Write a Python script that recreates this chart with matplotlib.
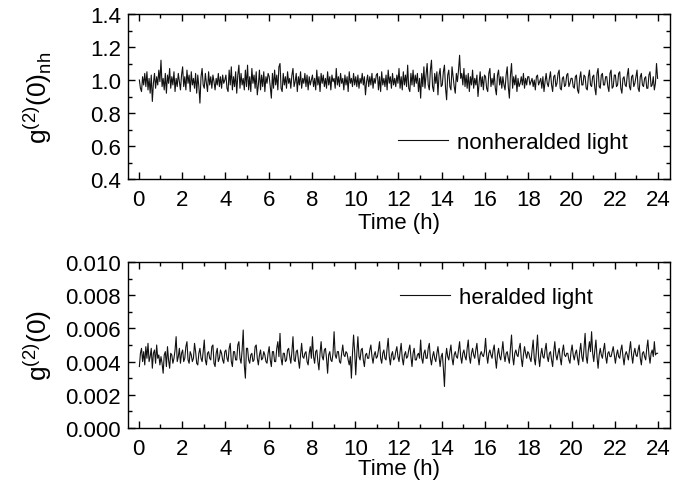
import numpy as np
import matplotlib
matplotlib.use("Agg")
import matplotlib.pyplot as plt
from matplotlib.ticker import MultipleLocator, FormatStrFormatter

plt.rcParams['font.family'] = ['Liberation Sans', 'DejaVu Sans']
plt.rcParams['mathtext.fontset'] = 'custom'
plt.rcParams['mathtext.rm'] = 'Liberation Sans'

# --- data, one row = one hour (3 min steps) ---
time_h = np.arange(0.025, 24.0, 0.05)

g2_nonheralded = [
    1.00, 0.95, 0.93, 1.02, 0.97, 1.04, 0.96, 1.05, 0.94, 1.01, 0.92, 1.03, 0.87, 0.98, 1.04, 0.95, 1.02, 0.97, 1.06, 0.99,
    1.12, 0.96, 1.01, 0.94, 1.04, 0.92, 1.03, 0.98, 1.07, 0.95, 1.02, 0.97, 1.05, 0.93, 1.01, 0.96, 1.04, 0.99, 0.94, 1.03,
    1.08, 0.96, 1.02, 0.94, 1.06, 0.98, 1.03, 0.93, 1.05, 0.97, 1.01, 0.95, 1.04, 0.92, 1.03, 0.96, 0.86, 1.02, 1.07, 0.97,
    0.95, 1.04, 0.98, 0.93, 1.05, 0.97, 1.02, 0.95, 1.03, 0.99, 0.94, 1.01, 0.97, 1.04, 0.96, 1.02, 0.95, 1.03, 0.98, 1.00,
    1.03, 0.95, 0.93, 1.06, 0.97, 1.08, 0.94, 1.02, 0.96, 1.05, 0.92, 1.03, 1.09, 0.95, 1.04, 0.97, 1.01, 0.94, 1.06, 0.96,
    1.09, 0.94, 1.02, 0.93, 1.07, 0.98, 1.03, 0.95, 1.05, 0.91, 0.97, 1.06, 0.94, 1.03, 0.96, 1.05, 0.93, 1.02, 0.98, 1.04,
    1.02, 0.96, 0.89, 1.04, 0.95, 1.06, 0.97, 1.03, 0.94, 1.08, 1.10, 0.95, 0.93, 1.04, 0.97, 1.02, 0.95, 1.05, 0.98, 1.01,
    0.95, 1.03, 1.07, 0.96, 0.99, 1.04, 0.93, 1.02, 0.97, 1.05, 0.95, 1.01, 0.98, 1.04, 0.96, 1.03, 0.94, 1.02, 0.97, 1.00,
    1.03, 0.96, 1.01, 0.94, 1.06, 0.97, 1.02, 0.93, 1.04, 0.98, 1.03, 0.96, 1.01, 0.95, 1.05, 0.97, 1.02, 0.94, 1.03, 0.99,
    1.01, 0.95, 1.07, 0.97, 1.02, 0.96, 1.04, 0.98, 1.01, 0.94, 1.03, 0.97, 1.02, 0.93, 1.05, 0.98, 1.01, 0.96, 1.04, 0.97,
    1.02, 0.96, 1.03, 0.95, 1.01, 0.98, 1.04, 0.97, 1.02, 0.91, 0.99, 1.03, 0.96, 1.02, 0.97, 1.04, 0.95, 1.01, 0.98, 1.03,
    1.04, 0.94, 1.02, 0.93, 1.05, 0.97, 1.01, 0.96, 1.03, 0.94, 1.06, 0.98, 1.02, 0.95, 1.04, 0.97, 1.01, 0.96, 1.03, 0.98,
    1.07, 0.95, 1.02, 0.94, 1.05, 0.97, 1.03, 0.96, 1.09, 0.95, 0.93, 1.04, 0.97, 1.06, 0.96, 1.03, 0.98, 1.04, 0.93, 1.01,
    0.89, 1.04, 0.96, 1.08, 0.95, 1.03, 1.10, 0.97, 0.94, 1.06, 1.12, 0.96, 0.93, 1.04, 0.98, 1.05, 0.91, 1.03, 1.07, 0.96,
    0.97, 1.05, 1.09, 0.95, 0.88, 1.03, 1.06, 0.96, 0.94, 1.08, 1.02, 0.96, 0.92, 1.04, 0.99, 1.06, 1.15, 1.01, 1.04, 0.97,
    1.07, 0.96, 1.03, 0.95, 1.04, 0.93, 1.02, 0.97, 1.06, 0.95, 1.01, 0.97, 1.03, 0.90, 0.98, 1.05, 0.96, 1.02, 0.94, 1.03,
    1.02, 0.95, 0.93, 1.04, 1.07, 0.96, 1.01, 0.97, 1.04, 0.95, 0.91, 1.03, 1.06, 0.97, 1.02, 0.95, 1.02, 0.97, 0.94, 1.03,
    1.08, 0.96, 0.89, 1.03, 1.10, 0.95, 1.02, 0.97, 1.03, 0.93, 1.01, 0.96, 0.98, 1.02, 0.97, 1.04, 0.95, 1.01, 0.97, 1.02,
    1.02, 0.97, 0.99, 1.01, 0.96, 1.00, 0.94, 1.02, 1.03, 0.97, 0.99, 1.01, 0.95, 1.02, 0.93, 0.99, 1.04, 0.98, 0.96, 1.01,
    1.05, 0.97, 0.93, 1.02, 1.03, 0.96, 0.98, 1.04, 1.06, 0.95, 0.94, 1.01, 1.02, 0.96, 0.97, 1.03, 1.04, 0.96, 0.98, 1.01,
    1.01, 0.96, 0.95, 1.02, 1.03, 0.94, 0.92, 1.01, 1.05, 0.97, 0.97, 1.03, 1.02, 0.95, 0.94, 1.02, 1.06, 0.97, 0.96, 1.02,
    1.03, 0.95, 0.91, 1.04, 1.07, 0.96, 0.95, 1.03, 1.04, 0.97, 0.97, 1.02, 1.02, 0.96, 0.93, 1.04, 1.06, 0.95, 0.96, 1.03,
    1.03, 0.96, 0.97, 1.04, 1.05, 0.95, 0.92, 1.01, 1.02, 0.97, 0.96, 1.03, 1.07, 0.96, 0.94, 1.02, 1.03, 0.96, 0.98, 1.02,
    1.06, 0.95, 0.93, 1.02, 1.04, 0.97, 0.96, 1.01, 1.02, 0.95, 0.95, 1.03, 1.05, 0.96, 0.97, 1.02, 0.94, 0.98, 1.10, 1.01,
]

# heralded g2 in units of 1e-3
g2_heralded_e3 = [
    3.7, 4.5, 4.8, 4.0, 4.6, 3.8, 4.9, 4.2, 5.1, 4.0, 4.3, 4.8, 3.6, 4.5, 4.7, 3.9, 5.0, 4.2, 4.4, 3.8,
    4.3, 3.9, 3.3, 4.4, 4.6, 3.7, 4.9, 4.1, 3.6, 4.5, 4.4, 3.9, 4.2, 4.7, 5.5, 4.0, 4.3, 4.8, 3.9, 4.5,
    4.7, 4.0, 4.2, 4.9, 5.2, 4.1, 3.9, 4.6, 4.4, 4.0, 4.2, 5.1, 4.6, 3.9, 3.8, 4.5, 4.8, 4.2, 4.0, 4.6,
    5.3, 4.1, 3.8, 4.5, 4.6, 4.2, 4.1, 4.9, 5.0, 3.9, 3.7, 4.5, 4.8, 4.0, 4.2, 4.7, 4.5, 4.1, 3.9, 4.6,
    4.7, 4.2, 4.0, 4.8, 5.1, 4.0, 3.7, 4.6, 4.6, 4.1, 4.1, 5.0, 5.2, 4.2, 3.9, 4.7, 5.9, 3.8, 3.0, 4.8,
    4.8, 4.1, 3.9, 4.4, 4.5, 4.0, 4.1, 4.9, 5.0, 4.2, 3.8, 4.4, 4.7, 4.1, 4.2, 4.6, 4.4, 4.0, 3.9, 4.5,
    4.9, 4.1, 3.7, 4.6, 4.6, 4.0, 4.0, 4.8, 5.2, 4.3, 5.7, 4.2, 3.8, 4.5, 4.5, 4.0, 4.1, 4.7, 4.8, 4.3,
    3.9, 4.6, 5.5, 4.1, 4.0, 4.6, 4.7, 4.1, 3.6, 4.4, 5.1, 4.3, 4.2, 4.5, 4.6, 4.0, 3.8, 4.5, 4.9, 4.2,
    5.5, 4.3, 3.9, 4.6, 4.7, 4.0, 3.5, 4.5, 5.2, 4.3, 4.1, 4.7, 4.8, 4.2, 3.3, 4.4, 4.6, 4.1, 4.0, 4.5,
    5.8, 4.4, 4.2, 4.6, 4.6, 4.0, 3.9, 4.5, 5.0, 4.4, 4.3, 4.6, 4.5, 4.1, 3.8, 4.3, 3.0, 4.5, 5.6, 4.6,
    3.2, 4.5, 5.5, 4.3, 4.1, 4.7, 4.8, 4.1, 3.7, 4.4, 4.5, 4.2, 4.2, 4.7, 5.0, 4.3, 3.9, 4.4, 4.6, 4.2,
    4.3, 4.7, 5.2, 4.2, 3.9, 4.5, 4.7, 4.2, 4.1, 4.8, 5.4, 4.3, 3.8, 4.4, 4.6, 4.1, 4.2, 4.6, 4.9, 4.3,
    4.0, 4.6, 5.1, 4.2, 3.8, 4.4, 4.6, 4.2, 4.3, 4.7, 5.0, 4.3, 3.7, 4.5, 4.8, 4.1, 4.1, 4.4, 4.5, 4.2,
    5.3, 4.2, 3.9, 4.5, 4.7, 4.2, 4.2, 4.8, 5.1, 4.2, 3.8, 4.3, 4.6, 4.2, 4.0, 4.5, 4.9, 4.3, 3.7, 4.3,
    4.5, 3.6, 2.5, 4.2, 4.8, 4.3, 4.1, 4.6, 5.0, 4.2, 3.8, 4.4, 4.6, 4.3, 4.2, 4.7, 5.2, 4.3, 3.9, 4.5,
    4.7, 4.3, 4.1, 4.8, 5.3, 4.3, 3.9, 4.5, 4.8, 4.4, 4.2, 4.7, 5.1, 4.3, 3.8, 4.4, 4.6, 4.4, 4.3, 4.6,
    5.4, 4.4, 3.9, 4.5, 4.7, 4.4, 4.2, 4.7, 5.0, 4.2, 3.6, 4.4, 4.8, 4.3, 4.1, 4.6, 5.2, 4.4, 4.0, 4.5,
    4.6, 4.2, 3.9, 4.8, 5.6, 4.3, 3.8, 4.5, 4.7, 4.4, 4.3, 4.8, 5.1, 4.2, 3.7, 4.4, 4.9, 4.5, 4.2, 4.6,
    4.5, 4.2, 4.0, 4.7, 5.3, 4.2, 3.8, 4.7, 5.6, 4.3, 3.7, 4.4, 4.8, 4.3, 4.2, 4.7, 5.1, 4.3, 4.0, 4.5,
    4.6, 4.1, 3.7, 4.6, 5.2, 4.4, 4.1, 4.5, 4.8, 4.2, 3.8, 4.6, 5.0, 4.4, 4.3, 4.5, 4.5, 4.1, 3.9, 4.6,
    5.0, 4.4, 4.1, 4.5, 4.7, 4.2, 3.8, 4.6, 5.1, 4.3, 4.0, 4.8, 5.7, 4.3, 3.9, 4.7, 5.2, 4.6, 5.8, 4.5,
    4.0, 4.7, 5.3, 4.3, 3.6, 4.4, 4.8, 4.4, 4.2, 4.7, 5.1, 4.3, 3.9, 4.5, 4.6, 4.3, 4.3, 4.6, 4.9, 4.4,
    3.9, 4.4, 4.7, 4.3, 4.2, 4.7, 5.0, 4.3, 3.8, 4.4, 4.6, 4.4, 4.1, 4.7, 5.2, 4.4, 3.9, 4.5, 4.8, 4.4,
    4.3, 4.7, 5.0, 4.2, 3.8, 4.5, 4.6, 4.3, 4.1, 4.8, 5.3, 4.4, 3.9, 4.5, 4.7, 4.3, 5.2, 4.4, 4.5, 4.5,
]
g2_heralded = np.array(g2_heralded_e3) * 1e-3

fs = 16
fig = plt.figure(figsize=(6.87, 4.89), dpi=100)
ax1 = fig.add_axes([0.1863, 0.6319, 0.789, 0.3374])
ax2 = fig.add_axes([0.1863, 0.1227, 0.789, 0.3395])


def style(ax, xlabelpad):
    ax.set_xlim(-0.5, 24.55)
    ax.xaxis.set_major_locator(MultipleLocator(2))
    ax.xaxis.set_minor_locator(MultipleLocator(1))
    ax.tick_params(which='both', direction='in', top=True, right=True,
                   labelsize=fs, width=1)
    ax.tick_params(which='major', length=5)
    ax.tick_params(which='minor', length=3)
    ax.tick_params(axis='x', which='major', pad=7.5)
    ax.tick_params(axis='y', which='major', pad=5)
    for sp in ax.spines.values():
        sp.set_linewidth(1)
    ax.set_xlabel('Time (h)', fontsize=fs, labelpad=xlabelpad)


line_kw = dict(color='#111111', lw=0.8)
leg_kw = dict(frameon=False, loc='center left', borderpad=0, borderaxespad=0,
              handlelength=2.25, handletextpad=0.4, fontsize=fs)

ax1.plot(time_h, g2_nonheralded, label='nonheralded light', **line_kw)
style(ax1, 1)
ax1.set_ylim(0.4, 1.4)
ax1.yaxis.set_major_locator(MultipleLocator(0.2))
ax1.yaxis.set_minor_locator(MultipleLocator(0.1))
ax1.yaxis.set_major_formatter(FormatStrFormatter('%.1f'))
ax1.set_ylabel(r'g$^{(2)}$(0)$_{\mathrm{nh}}$', fontsize=19, va='center')
ax1.yaxis.set_label_coords(-0.166, 0.5)
ax1.legend(bbox_to_anchor=(0.498, 0.224), **leg_kw)

ax2.plot(time_h, g2_heralded, label='heralded light', **line_kw)
style(ax2, -1)
ax2.set_ylim(0, 0.010)
ax2.yaxis.set_major_locator(MultipleLocator(0.002))
ax2.yaxis.set_minor_locator(MultipleLocator(0.001))
ax2.yaxis.set_major_formatter(FormatStrFormatter('%.3f'))
ax2.set_ylabel(r'g$^{(2)}$(0)', fontsize=19, va='center')
ax2.yaxis.set_label_coords(-0.166, 0.5)
ax2.legend(bbox_to_anchor=(0.502, 0.789), **leg_kw)

fig.savefig('out.png', dpi=100)
